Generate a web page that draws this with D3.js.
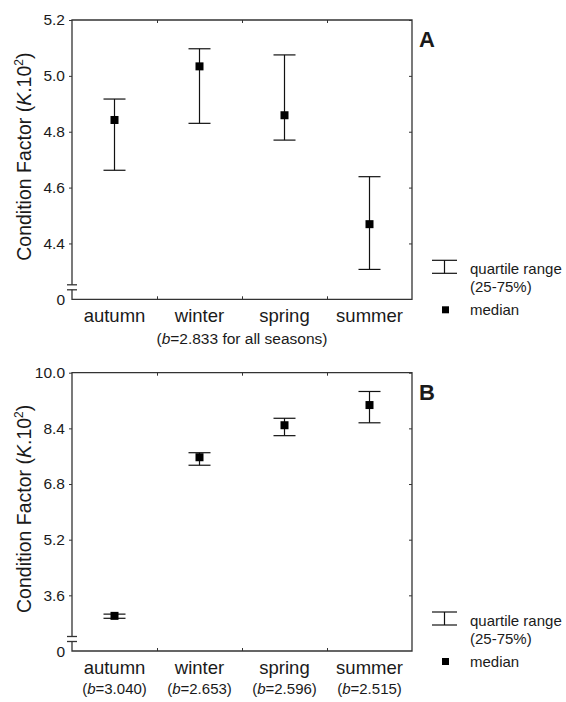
<!DOCTYPE html>
<html>
<head>
<meta charset="utf-8">
<script src="https://cdn.jsdelivr.net/npm/d3@7/dist/d3.min.js"></script>
<style>
  html, body { margin: 0; padding: 0; background: #fff; }
  svg { display: block; }
  text { font-family: "Liberation Sans", Arial, Helvetica, sans-serif; fill: #1a1a1a; }
  .axis path.domain { display: none; }
  .axis line { stroke: #333; stroke-width: 1; }
</style>
</head>
<body>
<svg id="chart" width="566" height="702"></svg>
<script>
/* ---- data ---- */
const seasons = ['autumn', 'winter', 'spring', 'summer'];

// panel A: single slope for all seasons
const aQ1 = [4.662, 4.830, 4.770, 4.307];
const aMedian = [4.842, 5.034, 4.859, 4.469];
const aQ3 = [4.917, 5.097, 5.075, 4.639];
const aDomain = [4.2, 5.2];
const aTicks = [4.4, 4.6, 4.8, 5.0, 5.2];

// panel B: slope per season
const bQ1 = [2.94, 7.34, 8.19, 8.56];
const bMedian = [3.01, 7.57, 8.49, 9.07];
const bQ3 = [3.06, 7.70, 8.69, 9.46];
const bDomain = [2.0, 10.0];
const bTicks = [3.6, 5.2, 6.8, 8.4, 10.0];
const bSlopes = ['3.040', '2.653', '2.596', '2.515'];

const svg = d3.select('#chart');
const left = 72, right = 412;

const x = d3.scaleBand().domain(seasons).range([left, right]).padding(0);
const xEdge = d3.scaleLinear().domain([0, seasons.length]).range([left, right]);

function drawPanel(opt) {
  const top = opt.top, bottom = opt.bottom;
  const y = d3.scaleLinear().domain(opt.domain).range([bottom, top]);
  const g = svg.append('g');

  // left ticks + labels
  g.append('g').attr('class', 'axis')
    .attr('transform', `translate(${left},0)`)
    .call(d3.axisLeft(y).tickValues(opt.ticks).tickSize(3).tickPadding(4).tickFormat(d3.format('.1f')))
    .selectAll('text').style('font-size', '15.5px').attr('fill', '#1a1a1a');

  // right ticks (pointing inward)
  g.append('g').attr('class', 'axis')
    .attr('transform', `translate(${right},0)`)
    .call(d3.axisLeft(y).tickValues(opt.ticks).tickSize(3).tickFormat(''));

  // top / bottom ticks at season boundaries
  g.append('g').attr('class', 'axis')
    .attr('transform', `translate(0,${top})`)
    .call(d3.axisBottom(xEdge).tickValues([1, 2, 3]).tickSize(3).tickFormat(''));
  g.append('g').attr('class', 'axis')
    .attr('transform', `translate(0,${bottom})`)
    .call(d3.axisTop(xEdge).tickValues([1, 2, 3]).tickSize(3).tickFormat(''));

  // frame with broken left axis
  const bTop = bottom - 14.5, bBot = bottom - 9.5;
  const frame = g.append('g').attr('stroke', '#333').attr('stroke-width', 1.3).attr('fill', 'none');
  frame.append('path').attr('d', `M${left},${bTop}V${top}H${right}V${bottom}H${left}V${bBot}`);
  frame.append('line').attr('x1', left - 5).attr('x2', left + 5).attr('y1', bTop).attr('y2', bTop);
  frame.append('line').attr('x1', left - 5).attr('x2', left + 5).attr('y1', bBot).attr('y2', bBot);

  g.append('text').attr('x', left - 7).attr('y', bottom + 5.5)
    .attr('text-anchor', 'end').style('font-size', '15.5px').text('0');

  // y label
  const yl = g.append('text')
    .attr('transform', `translate(31,${(top + bottom) / 2 - 3}) rotate(-90)`)
    .attr('text-anchor', 'middle').style('font-size', '19.5px');
  yl.append('tspan').text('Condition Factor (');
  yl.append('tspan').style('font-style', 'italic').text('K');
  yl.append('tspan').text('.10');
  yl.append('tspan').attr('dy', -8).style('font-size', '12px').text('2');
  yl.append('tspan').attr('dy', 8).text(')');

  // panel letter
  g.append('text').attr('x', 419).attr('y', top + 27)
    .style('font-size', '22px').style('font-weight', 'bold').text(opt.letter);

  // season labels
  g.selectAll('.season').data(seasons).join('text')
    .attr('class', 'season')
    .attr('x', d => x(d) + x.bandwidth() / 2)
    .attr('y', bottom + 23)
    .attr('text-anchor', 'middle').style('font-size', '18.5px')
    .text(d => d);

  // error bars (quartile range)
  const cap = 11;
  const bars = g.selectAll('.bar').data(seasons).join('g').attr('class', 'bar')
    .attr('stroke', '#111').attr('stroke-width', 1.2);
  bars.append('line')
    .attr('x1', d => x(d) + x.bandwidth() / 2).attr('x2', d => x(d) + x.bandwidth() / 2)
    .attr('y1', (d, i) => y(opt.q1[i])).attr('y2', (d, i) => y(opt.q3[i]));
  bars.append('line')
    .attr('x1', d => x(d) + x.bandwidth() / 2 - cap).attr('x2', d => x(d) + x.bandwidth() / 2 + cap)
    .attr('y1', (d, i) => y(opt.q3[i])).attr('y2', (d, i) => y(opt.q3[i]));
  bars.append('line')
    .attr('x1', d => x(d) + x.bandwidth() / 2 - cap).attr('x2', d => x(d) + x.bandwidth() / 2 + cap)
    .attr('y1', (d, i) => y(opt.q1[i])).attr('y2', (d, i) => y(opt.q1[i]));

  // medians
  const sq = 8;
  g.selectAll('.med').data(seasons).join('rect')
    .attr('class', 'med')
    .attr('x', d => x(d) + x.bandwidth() / 2 - sq / 2)
    .attr('y', (d, i) => y(opt.median[i]) - sq / 2)
    .attr('width', sq).attr('height', sq).attr('fill', '#000');

  // legend
  const lg = g.append('g');
  const lc = lg.append('g').attr('stroke', '#111').attr('stroke-width', 1.2);
  lc.append('line').attr('x1', 432).attr('x2', 457).attr('y1', bottom - 39).attr('y2', bottom - 39);
  lc.append('line').attr('x1', 432).attr('x2', 457).attr('y1', bottom - 26).attr('y2', bottom - 26);
  lc.append('line').attr('x1', 444.5).attr('x2', 444.5).attr('y1', bottom - 39).attr('y2', bottom - 26);
  lg.append('text').attr('x', 470).attr('y', bottom - 25.5).style('font-size', '15px').text('quartile range');
  lg.append('text').attr('x', 470).attr('y', bottom - 7.5).style('font-size', '15px').text('(25-75%)');
  lg.append('rect').attr('x', 442).attr('y', bottom + 7).attr('width', 7).attr('height', 7).attr('fill', '#000');
  lg.append('text').attr('x', 470).attr('y', bottom + 15.5).style('font-size', '15px').text('median');

  return g;
}

const gA = drawPanel({
  top: 20, bottom: 299.3, domain: aDomain, ticks: aTicks, letter: 'A',
  q1: aQ1, median: aMedian, q3: aQ3
});
const subA = gA.append('text')
  .attr('x', (left + right) / 2).attr('y', 344)
  .attr('text-anchor', 'middle').style('font-size', '15.5px');
subA.append('tspan').text('(');
subA.append('tspan').style('font-style', 'italic').text('b');
subA.append('tspan').text('=2.833 for all seasons)');

const gB = drawPanel({
  top: 372.7, bottom: 651, domain: bDomain, ticks: bTicks, letter: 'B',
  q1: bQ1, median: bMedian, q3: bQ3
});
const subB = gB.selectAll('.slope').data(seasons).join('text')
  .attr('class', 'slope')
  .attr('x', d => x(d) + x.bandwidth() / 2).attr('y', 694)
  .attr('text-anchor', 'middle').style('font-size', '15px');
subB.append('tspan').text('(');
subB.append('tspan').style('font-style', 'italic').text('b');
subB.append('tspan').text((d, i) => '=' + bSlopes[i] + ')');
</script>
</body>
</html>
